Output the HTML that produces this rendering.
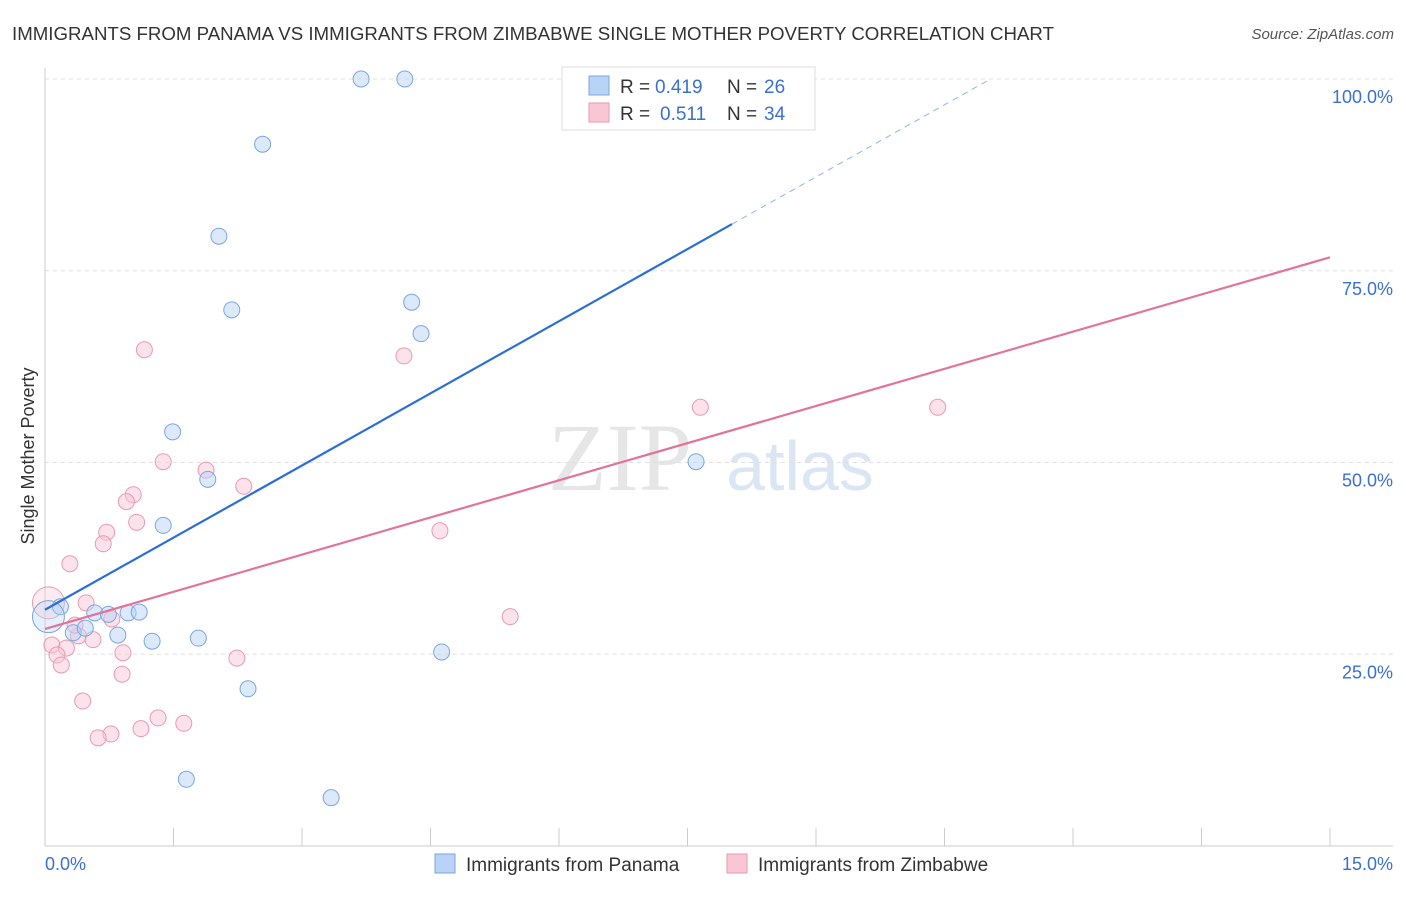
<!DOCTYPE html>
<html><head><meta charset="utf-8"><style>
body{margin:0;background:#fff;font-family:"Liberation Sans",sans-serif}
</style></head><body>
<svg id="c" width="1406" height="892" xmlns="http://www.w3.org/2000/svg" style="font-family:'Liberation Sans',sans-serif">
<text x="12" y="40" font-size="18" fill="#333" textLength="1042" lengthAdjust="spacingAndGlyphs">IMMIGRANTS FROM PANAMA VS IMMIGRANTS FROM ZIMBABWE SINGLE MOTHER POVERTY CORRELATION CHART</text>
<text x="1394" y="39" font-size="15" fill="#555" font-style="italic" text-anchor="end">Source: ZipAtlas.com</text>
<text x="620" y="490" font-size="96" fill="#e6e6e6" font-family="Liberation Serif" text-anchor="middle">ZIP</text>
<text x="800" y="490" font-size="70" fill="#dbe6f5" text-anchor="middle">atlas</text>
<text transform="translate(34,456) rotate(-90)" font-size="18" fill="#333" text-anchor="middle">Single Mother Poverty</text>
<g id="grid"></g><g id="pts"></g><g id="lines"></g>
<g>
<rect x="562" y="67" width="253" height="63" fill="#fff" stroke="#ddd"/>
<rect x="589" y="76" width="20" height="19" fill="#b8d3f5" stroke="#7aa7e0"/>
<rect x="589" y="103" width="20" height="19" fill="#f9c6d5" stroke="#e99ab2"/>
<text x="620" y="93" font-size="19" fill="#333">R =</text>
<text x="655" y="93" font-size="19" fill="#3a70d0">0.419</text>
<text x="727" y="93" font-size="19" fill="#333">N =</text>
<text x="764" y="93" font-size="19" fill="#3a70d0">26</text>
<text x="620" y="120" font-size="19" fill="#333">R =</text>
<text x="660" y="120" font-size="19" fill="#3a70d0">0.511</text>
<text x="727" y="120" font-size="19" fill="#333">N =</text>
<text x="764" y="120" font-size="19" fill="#3a70d0">34</text>
</g>
<g>
<rect x="435" y="854" width="20" height="19" fill="#b8d3f5" stroke="#7aa7e0"/>
<text x="466" y="871" font-size="19" fill="#333">Immigrants from Panama</text>
<rect x="727" y="854" width="20" height="19" fill="#f9c6d5" stroke="#e99ab2"/>
<text x="758" y="871" font-size="19" fill="#333">Immigrants from Zimbabwe</text>
</g>
<text x="45" y="870" font-size="18" fill="#3a70d0">0.0%</text>
<text x="1393" y="870" font-size="18" fill="#3a70d0" text-anchor="end">15.0%</text>
</svg>
<script>
const panamaX=[3.69,4.20,2.54,2.03,2.18,4.28,4.39,1.49,1.90,1.38,7.60,0.58,0.74,0.97,1.10,0.18,0.33,0.47,0.85,1.25,1.79,4.63,2.37,1.65,3.34,0.04];
const panamaY=[100,100,91.5,79.5,69.9,70.9,66.8,54.0,47.8,41.8,50.1,30.4,30.2,30.4,30.5,31.2,27.8,28.4,27.5,26.7,27.1,25.3,20.5,8.7,6.3,29.9];
const zimX=[1.16,4.19,7.65,10.42,1.38,1.88,2.32,1.03,0.95,1.07,0.72,4.61,0.68,0.29,0.48,0.78,5.43,0.04,0.39,0.56,0.08,0.25,0.91,0.14,0.19,2.24,0.90,0.44,1.32,1.62,1.12,0.77,0.62,0.35];
const zimY=[64.7,63.9,57.2,57.2,50.1,49.0,46.9,45.8,44.9,42.2,40.9,41.1,39.4,36.8,31.7,29.6,29.9,31.7,27.4,26.9,26.2,25.8,25.2,24.9,23.6,24.5,22.4,18.9,16.7,16.0,15.3,14.6,14.1,28.8];
const yTicks=[25,50,75,100];
const yTickLabels=["25.0%","50.0%","75.0%","100.0%"];
const xTicks=[0,1.5,3,4.5,6,7.5,9,10.5,12,13.5,15];
const panamaTrend=[30.8,6.27];
const zimTrend=[28.3,3.23];
const NS='http://www.w3.org/2000/svg';
const X=v=>45+v/15*1285, Y=v=>846-v*7.67;
function mk(t,a,p){const e=document.createElementNS(NS,t);for(const k in a)e.setAttribute(k,a[k]);p.appendChild(e);return e;}
const grid=document.getElementById('grid'),pts=document.getElementById('pts'),lines=document.getElementById('lines');
yTicks.forEach((t,i)=>{
 const l=mk('line',{x1:45,x2:1393,y1:Y(t),y2:Y(t),stroke:'#e0e0e0','stroke-dasharray':'4,4'},grid);
 
 
 const tx=mk('text',{x:1393,y:Y(t)+24,'font-size':18,fill:'#3a70d0','text-anchor':'end'},grid);
 tx.textContent=yTickLabels[i];
 
 
});
mk('line',{x1:45,x2:1393,y1:846,y2:846,stroke:'#ccc'},grid);
mk('line',{x1:45,x2:45,y1:68,y2:846,stroke:'#ccc'},grid);
xTicks.forEach(t=>{
 const l=mk('line',{x1:X(t),x2:X(t),y1:828,y2:846,stroke:'#ccc'},grid);
 
 
});
function dots(xs,ys,fill,stroke,name){
 xs.forEach((x,i)=>{
  const big=x<0.06;
  const c=mk('circle',{cx:X(x),cy:Y(ys[i]),r:big?16:8,fill:fill,'fill-opacity':big?0.35:0.5,stroke:stroke,'stroke-width':1},pts);
  
  
 });
}
dots(zimX,zimY,'#f9c6d5','#e99ab2','zimbabwe-point');
dots(panamaX,panamaY,'#b8d3f5','#7aa7e0','panama-point');
const pEnd=8.02, pDashEnd=(100-panamaTrend[0])/panamaTrend[1];
let l=mk('line',{x1:X(0),y1:Y(panamaTrend[0]),x2:X(pEnd),y2:Y(panamaTrend[0]+panamaTrend[1]*pEnd),stroke:'#2b6fd6','stroke-width':2.2},lines);


l=mk('line',{x1:X(pEnd),y1:Y(panamaTrend[0]+panamaTrend[1]*pEnd),x2:X(pDashEnd),y2:Y(100),stroke:'#8fb3e6','stroke-width':1,'stroke-dasharray':'6,5'},lines);


l=mk('line',{x1:X(0),y1:Y(zimTrend[0]),x2:X(15),y2:Y(zimTrend[0]+zimTrend[1]*15),stroke:'#e2739a','stroke-width':2.2},lines);


</script>
</body></html>
